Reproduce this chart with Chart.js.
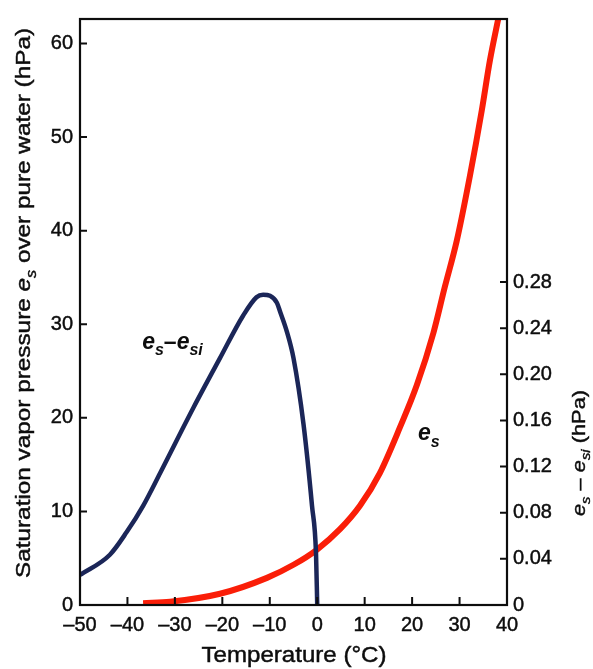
<!DOCTYPE html>
<html>
<head>
<meta charset="utf-8">
<script src="https://cdn.jsdelivr.net/npm/chart.js@4/dist/chart.umd.min.js"></script>
<style>
  html, body { margin: 0; padding: 0; background: #fff; }
  canvas { display: block; }
</style>
</head>
<body>
<canvas id="vp" width="593" height="669"></canvas>
<script>
// saturation vapour pressure over water, e_s (hPa, left axis)
const esTemps = [-36.7, -31, -20.5, -10.6, -5.0, -0.1, 4.8, 9.0, 13.2, 17.45, 21.0, 24.5, 26.9, 29.4, 32.2, 34.7, 36.4, 38.3]
const esVals  = [0.2, 0.35, 1.2, 2.9, 4.3, 5.9, 8.1, 10.6, 14.1, 19.0, 23.5, 29.1, 34.0, 38.9, 45.9, 52.9, 58.2, 63.0]

// difference e_s - e_si (hPa, right axis)
const diffTemps = [-50, -43.7, -40.2, -36.7, -33.1, -26.1, -20.5, -15.6, -12.8, -11.4, -9.95, -8.5, -7.8, -6.4, -5.0, -2.9, -1.1, -0.25, 0]
const diffVals  = [0.026, 0.0436, 0.063, 0.086, 0.1145, 0.171, 0.214, 0.251, 0.2668, 0.269, 0.268, 0.262, 0.254, 0.237, 0.214, 0.157, 0.086, 0.044, 0]

// axis ranges and tick steps
const tempRange = [-50, 40]
const esRange = [0, 62.62]
const diffRange = [0, 0.508]
const esTickMax = 60
const diffTickMax = 0.28

const FONT = '"Liberation Sans", Arial, Helvetica, sans-serif'
const INK = '#0d0d0d'

// draw a run of text pieces (normal / italic / subscript), optionally squeezed to a width
function richText(ctx, parts, x, y, opts){
  const size = opts.size
  const pieces = parts.map(p=>{
    const sz = p.sub ? Math.round(size*0.68) : size
    const f = `${p.bold?'bold ':''}${p.italic?'italic ':''}${sz}px ${FONT}`
    ctx.font = f
    return {text:p.t, font:f, w:ctx.measureText(p.t).width, dy: p.sub ? size*0.28 : 0}
  })
  const total = pieces.reduce((a,p)=>a+p.w, 0)
  const sx = opts.width ? opts.width/total : 1
  ctx.save()
  ctx.translate(x, y)
  if(opts.rotate) ctx.rotate(opts.rotate)
  ctx.scale(sx, 1)
  ctx.fillStyle = INK
  ctx.strokeStyle = INK
  ctx.lineWidth = opts.stroke || 0
  ctx.textBaseline = 'alphabetic'
  ctx.textAlign = 'left'
  let cx = opts.align === 'left' ? 0 : -total/2
  pieces.forEach(p=>{
    ctx.font = p.font
    ctx.fillText(p.text, cx, p.dy)
    if(opts.stroke) ctx.strokeText(p.text, cx, p.dy)
    cx += p.w
  })
  ctx.restore()
}

const framePlugin = {
  id: 'frame',
  afterDatasetsDraw(chart){
    const {ctx, chartArea:a, scales} = chart
    ctx.save()
    ctx.strokeStyle = INK
    ctx.lineWidth = 2.2
    ctx.strokeRect(a.left, a.top, a.right - a.left, a.bottom - a.top)
    ctx.lineWidth = 2
    ctx.beginPath()
    // ticks point into the plot
    scales.x.ticks.forEach(t=>{
      if(t.value <= tempRange[0] || t.value >= tempRange[1]) return
      const px = scales.x.getPixelForValue(t.value)
      ctx.moveTo(px, a.bottom); ctx.lineTo(px, a.bottom - 8)
    })
    scales.y.ticks.forEach(t=>{
      if(t.value <= 0) return
      const py = scales.y.getPixelForValue(t.value)
      ctx.moveTo(a.left, py); ctx.lineTo(a.left + 7, py)
    })
    scales.y2.ticks.forEach(t=>{
      if(t.value <= 0) return
      const py = scales.y2.getPixelForValue(t.value)
      ctx.moveTo(a.right, py); ctx.lineTo(a.right - 7, py)
    })
    ctx.stroke()
    ctx.restore()
  },
  afterDraw(chart){
    const {ctx, scales} = chart
    // curve labels
    richText(ctx, [
      {t:'e', italic:true, bold:true}, {t:'s', italic:true, bold:true, sub:true},
      {t:'\u2013', bold:true},
      {t:'e', italic:true, bold:true}, {t:'si', italic:true, bold:true, sub:true}
    ], scales.x.getPixelForValue(-36.9), scales.y.getPixelForValue(27.4), {size:23, align:'left'})
    richText(ctx, [
      {t:'e', italic:true, bold:true}, {t:'s', italic:true, bold:true, sub:true}
    ], scales.x.getPixelForValue(21.25), scales.y.getPixelForValue(17.6), {size:23, align:'left'})

    // axis titles
    richText(ctx, [{t:'Temperature (\u00b0C)'}], 294, 662, {size:22, width:185, stroke:0.45})
    richText(ctx, [
      {t:'Saturation vapor pressure '}, {t:'e', italic:true}, {t:'s', italic:true, sub:true},
      {t:' over pure water (hPa)'}
    ], 30, 303, {size:21, width:550, rotate:-Math.PI/2, stroke:0.45})
    richText(ctx, [
      {t:'e', italic:true}, {t:'s', italic:true, sub:true}, {t:' \u2013 '},
      {t:'e', italic:true}, {t:'si', italic:true, sub:true}, {t:' (hPa)'}
    ], 585, 453, {size:19, width:126, rotate:-Math.PI/2, stroke:0.4})
  }
}

const tickFont = {family: FONT, size: 20}
const tickStyle = {color: INK, font: tickFont, textStrokeColor: INK, textStrokeWidth: 0.45}

new Chart(document.getElementById('vp'), {
  type: 'line',
  data: {
    datasets: [
      {
        label: 'es - esi',
        data: diffTemps.map((t,i)=>({x:t, y:diffVals[i]})),
        yAxisID: 'y2',
        borderColor: '#1b2658',
        borderWidth: 4.5,
        pointRadius: 0,
        cubicInterpolationMode: 'monotone',
        fill: false
      },
      {
        label: 'es',
        data: esTemps.map((t,i)=>({x:t, y:esVals[i]})),
        yAxisID: 'y',
        borderColor: '#fa1e08',
        borderWidth: 6,
        pointRadius: 0,
        cubicInterpolationMode: 'monotone',
        fill: false
      }
    ]
  },
  options: {
    responsive: false,
    devicePixelRatio: 1,
    animation: false,
    layout: {padding: {top: 8, left: 0, right: 0, bottom: 0}},
    plugins: {legend: {display: false}, tooltip: {enabled: false}},
    scales: {
      x: {
        type: 'linear', position: 'bottom',
        min: tempRange[0], max: tempRange[1],
        grid: {display: false, drawTicks: false},
        border: {display: false},
        ticks: {
          ...tickStyle, stepSize: 10, padding: 8, maxRotation: 0,
          callback: v => v < 0 ? '\u2013' + Math.abs(v) : String(v)
        },
        afterFit(s){ s.height = 64 }
      },
      y: {
        type: 'linear', position: 'left',
        min: esRange[0], max: esRange[1],
        grid: {display: false, drawTicks: false},
        border: {display: false},
        ticks: {...tickStyle, stepSize: 10, padding: 7},
        afterBuildTicks(s){ s.ticks = s.ticks.filter(t => t.value <= esTickMax + 1e-6) },
        afterFit(s){ s.width = 80 }
      },
      y2: {
        type: 'linear', position: 'right',
        min: diffRange[0], max: diffRange[1],
        grid: {display: false, drawTicks: false},
        border: {display: false},
        ticks: {
          ...tickStyle, stepSize: 0.04, padding: 6,
          callback: v => v === 0 ? '0' : v.toFixed(2)
        },
        afterBuildTicks(s){ s.ticks = s.ticks.filter(t => t.value <= diffTickMax + 1e-6) },
        afterFit(s){ s.width = 86 }
      }
    }
  },
  plugins: [framePlugin]
})
</script>
</body>
</html>
